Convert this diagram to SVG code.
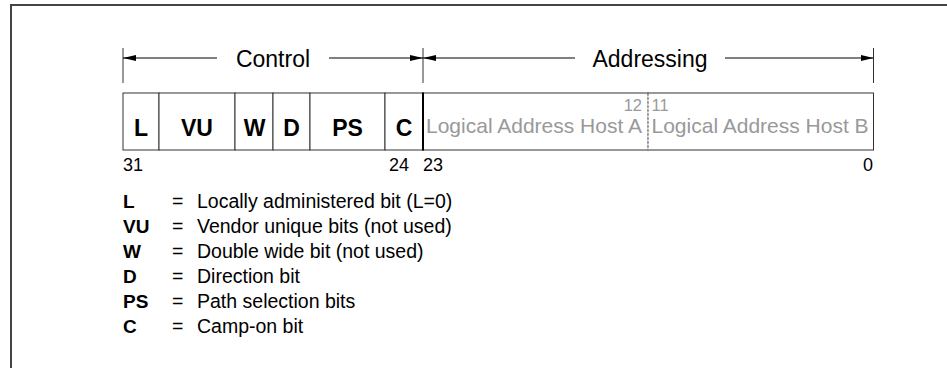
<svg xmlns="http://www.w3.org/2000/svg" width="947" height="368" viewBox="0 0 947 368">
<defs>
<marker id="ah" viewBox="0 0 13 6" refX="13" refY="3" markerWidth="13" markerHeight="6" markerUnits="userSpaceOnUse" orient="auto-start-reverse">
<path d="M0,0 L13,3 L0,6 Z" fill="#000"/>
</marker>
</defs>
<style>
text{font-family:"Liberation Sans",Arial,Helvetica,sans-serif;}
.hdr{font-size:23px;fill:#000;text-anchor:middle;}
.fld{font-size:23px;font-weight:bold;fill:#000;text-anchor:middle;}
.gry{font-size:21px;fill:#999;}
.sm{font-size:16.5px;fill:#999;}
.num{font-size:18px;fill:#000;}
.key{font-size:19px;font-weight:bold;fill:#000;}
.leg{font-size:19.5px;fill:#000;}
.cell{fill:#fff;stroke:#333;stroke-width:1;}
.tick{stroke:#333;stroke-width:1;}
.dim{stroke:#000;stroke-width:1;fill:none;}
</style>
<rect width="947" height="368" fill="#fff"/>
<path d="M11,368 V5 H947" fill="none" stroke="#444" stroke-width="2"/>

<g id="connectors">
<line class="tick" x1="123" y1="48" x2="123" y2="83"/>
<line class="tick" x1="423" y1="48" x2="423" y2="83"/>
<line class="tick" x1="873.5" y1="48" x2="873.5" y2="83"/>
<line class="dim" x1="217" y1="58" x2="123" y2="58" marker-end="url(#ah)"/>
<line class="dim" x1="329" y1="58" x2="423" y2="58" marker-end="url(#ah)"/>
<line class="dim" x1="575" y1="58" x2="423" y2="58" marker-end="url(#ah)"/>
<line class="dim" x1="725" y1="58" x2="873.5" y2="58" marker-end="url(#ah)"/>
</g>

<g id="hdr-control"><text class="hdr" x="273" y="66.5">Control</text></g>
<g id="hdr-addressing"><text class="hdr" x="650" y="66.5">Addressing</text></g>

<g id="field-L"><rect class="cell" x="123" y="93" width="36" height="57"/><text class="fld" x="141" y="135.5">L</text></g>
<g id="field-VU"><rect class="cell" x="159" y="93" width="76" height="57"/><text class="fld" x="197" y="135.5">VU</text></g>
<g id="field-W"><rect class="cell" x="235" y="93" width="38" height="57"/><text class="fld" x="254.5" y="135.5">W</text></g>
<g id="field-D"><rect class="cell" x="273" y="93" width="37" height="57"/><text class="fld" x="291.5" y="135.5">D</text></g>
<g id="field-PS"><rect class="cell" x="310" y="93" width="75" height="57"/><text class="fld" x="347.5" y="135.5">PS</text></g>
<g id="field-C"><rect class="cell" x="385" y="93" width="38" height="57"/><text class="fld" x="404" y="135.5">C</text></g>
<g id="field-hostA"><rect class="cell" x="423" y="93" width="225" height="57"/><text class="gry" x="426" y="133">Logical Address Host A</text><text class="sm" x="642" y="110.5" text-anchor="end">12</text></g>
<g id="field-hostB"><rect class="cell" x="648" y="93" width="225.5" height="57"/><text class="gry" x="651.5" y="133">Logical Address Host B</text><text class="sm" x="651.5" y="110.5">11</text></g>
<line x1="423" y1="92.5" x2="423" y2="150.5" stroke="#000" stroke-width="2"/>
<line x1="648" y1="93.5" x2="648" y2="149.5" stroke="#fff" stroke-width="1.5"/>
<line x1="648" y1="93.5" x2="648" y2="149.5" stroke="#444" stroke-width="1" stroke-dasharray="2,2"/>

<g id="bit-numbers">
<text class="num" x="123" y="170.5">31</text>
<text class="num" x="409" y="170.5" text-anchor="end">24</text>
<text class="num" x="423" y="170.5">23</text>
<text class="num" x="873" y="170.5" text-anchor="end">0</text>
</g>

<g id="legend">
<text class="key" x="123" y="208">L</text><text class="leg" x="172" y="208">=</text><text class="leg" x="197" y="208">Locally administered bit (L=0)</text>
<text class="key" x="123" y="233">VU</text><text class="leg" x="172" y="233">=</text><text class="leg" x="197" y="233">Vendor unique bits (not used)</text>
<text class="key" x="123" y="258">W</text><text class="leg" x="172" y="258">=</text><text class="leg" x="197" y="258">Double wide bit (not used)</text>
<text class="key" x="123" y="283">D</text><text class="leg" x="172" y="283">=</text><text class="leg" x="197" y="283">Direction bit</text>
<text class="key" x="123" y="308">PS</text><text class="leg" x="172" y="308">=</text><text class="leg" x="197" y="308">Path selection bits</text>
<text class="key" x="123" y="333">C</text><text class="leg" x="172" y="333">=</text><text class="leg" x="197" y="333">Camp-on bit</text>
</g>
</svg>
